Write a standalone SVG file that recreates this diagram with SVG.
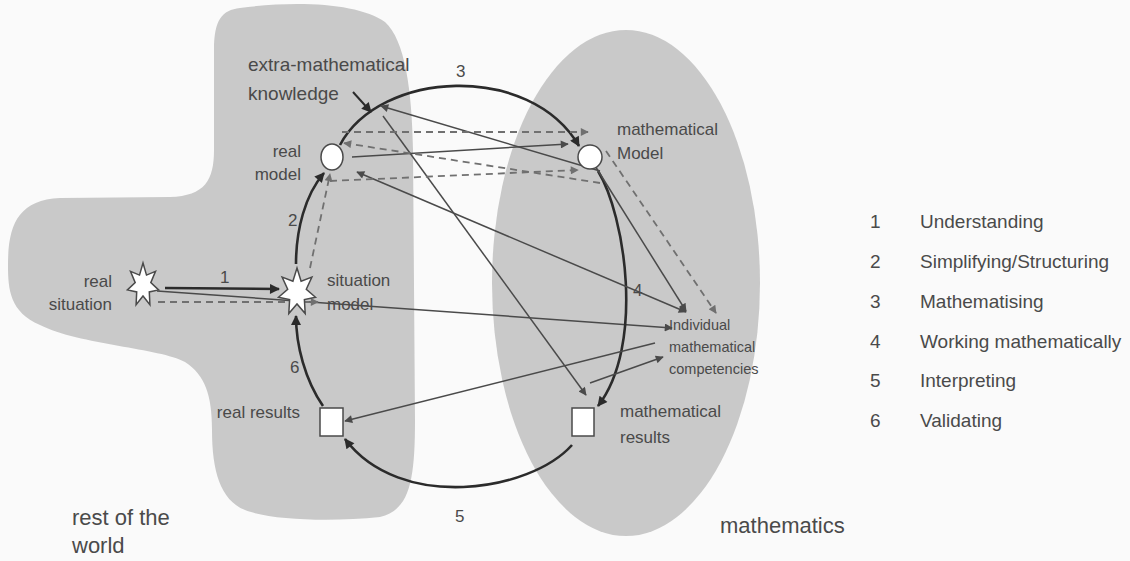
<svg xmlns="http://www.w3.org/2000/svg" width="1130" height="561" viewBox="0 0 1130 561">
<style>
.lbl{font-family:"Liberation Sans",Arial,sans-serif;font-size:17px;fill:#4a4a4a}
.big{font-size:22px}
.sm{font-size:14.5px}
.leg{font-size:19px}
.thick{fill:none;stroke:#2b2b2b;stroke-width:2.6}
.thin{fill:none;stroke:#4a4a4a;stroke-width:1.5}
.dash{fill:none;stroke:#707070;stroke-width:1.8;stroke-dasharray:7 5}
.node{fill:#ffffff;stroke:#4a4a4a;stroke-width:1.5}
</style>
<defs>
<marker id="ah" viewBox="0 0 10 10" refX="9" refY="5" markerWidth="12" markerHeight="10" orient="auto-start-reverse" markerUnits="userSpaceOnUse"><path d="M0,0 L10,5 L0,10 z" fill="#2b2b2b"/></marker>
<marker id="at" viewBox="0 0 10 10" refX="9" refY="5" markerWidth="10" markerHeight="8" orient="auto-start-reverse" markerUnits="userSpaceOnUse"><path d="M0,0 L10,5 L0,10 z" fill="#4a4a4a"/></marker>
<marker id="ad" viewBox="0 0 10 10" refX="9" refY="5" markerWidth="9" markerHeight="8" orient="auto-start-reverse" markerUnits="userSpaceOnUse"><path d="M0,0 L10,5 L0,10 z" fill="#707070"/></marker>
</defs>
<rect width="1130" height="561" fill="#fafafa"/>
<g id="regions">
<path id="rest-of-world" d="M240,8 C300,0 360,4 385,22 C405,40 412,90 413,150 L415,420 C415,480 410,510 380,517 C330,522 270,520 245,510 C220,500 212,470 212,430 C212,395 205,375 185,362 C160,348 80,345 40,325 C10,312 8,290 8,265 C8,225 18,200 60,198 L170,197 C205,196 214,180 214,150 L214,50 C214,20 222,10 240,8 Z" fill="#c9c9c9"/>
<ellipse id="mathematics-region" cx="626" cy="283" rx="134" ry="253" fill="#c9c9c9"/>
</g>
<g id="connectors">
<path class="thick" d="M165,288 L279,289" marker-end="url(#ah)"/>
<path class="thin" d="M157,291 L672,328" marker-end="url(#at)"/>
<path class="dash" d="M158,302 L318,302" marker-end="url(#ad)"/>
<path class="thick" d="M296,264 C296,230 305,195 324,173" marker-end="url(#ah)"/>
<path class="dash" d="M310,268 L330,174" marker-end="url(#ad)"/>
<path class="thick" d="M340,145 C380,70 530,62 579,146" marker-end="url(#ah)"/>
<path class="thick" d="M598,171 C625,215 645,345 598,406" marker-end="url(#ah)"/>
<path class="thick" d="M572,445 C530,492 400,512 345,439" marker-end="url(#ah)"/>
<path class="thick" d="M323,406 C305,380 296,345 296,316" marker-end="url(#ah)"/>
<path class="thick" d="M353,92 L371,112" marker-end="url(#ah)" style="stroke-width:2"/>
<path class="thin" d="M383,116 L586,395" marker-end="url(#at)"/>
<path class="thin" d="M381,106 L600,171" marker-start="url(#at)"/>
<path class="thin" d="M357,172 L686,312" marker-start="url(#at)" marker-end="url(#at)"/>
<path class="thin" d="M352,157 L568,144" marker-end="url(#at)"/>
<path class="dash" d="M342,132 L588,132" marker-end="url(#ad)"/>
<path class="dash" d="M600,183 L344,143" marker-end="url(#ad)"/>
<path class="dash" d="M330,181 L578,170" marker-end="url(#ad)"/>
<path class="thin" d="M592,161 L686,311" marker-start="url(#at)" marker-end="url(#at)"/>
<path class="dash" d="M606,151 L716,313" marker-end="url(#ad)"/>
<path class="thin" d="M655,343 L345,421" marker-end="url(#at)"/>
<path class="thin" d="M590,383 L663,357" marker-end="url(#at)"/>
</g>
<g id="real-situation">
<polygon class="node" points="143,263 146.5,275.1 155.5,271.3 150.8,282.6 158.6,289.9 149.3,291.9 149.9,304.8 143,296 136.1,304.8 136.7,291.9 127.4,289.9 135.2,282.6 130.5,271.3 139.5,275.1"/>
<text class="lbl" x="112" y="287" text-anchor="end">real</text>
<text class="lbl" x="112" y="310" text-anchor="end">situation</text>
</g>
<g id="situation-model">
<polygon class="node" points="297,268 301.1,281.2 311.9,277 306.3,289.3 315.5,297.3 304.4,299.5 305.2,313.6 297,304 288.8,313.6 289.6,299.5 278.5,297.3 287.7,289.3 282.1,277 292.9,281.2"/>
<text class="lbl" x="327" y="286">situation</text>
<text class="lbl" x="327" y="310">model</text>
</g>
<g id="real-model">
<ellipse class="node" cx="332" cy="157" rx="11" ry="13"/>
<text class="lbl" x="301" y="157" text-anchor="end">real</text>
<text class="lbl" x="301" y="180" text-anchor="end">model</text>
</g>
<g id="mathematical-model">
<circle class="node" cx="590" cy="157" r="12"/>
<text class="lbl" x="617" y="135">mathematical</text>
<text class="lbl" x="617" y="159">Model</text>
</g>
<g id="real-results">
<rect class="node" x="320" y="408" width="23" height="28"/>
<text class="lbl" x="300" y="418" text-anchor="end">real results</text>
</g>
<g id="mathematical-results">
<rect class="node" x="572" y="408" width="22" height="28"/>
<text class="lbl" x="620" y="417">mathematical</text>
<text class="lbl" x="620" y="443">results</text>
</g>
<g id="extra-mathematical-knowledge">
<text class="lbl" x="248" y="71" style="font-size:19px">extra-mathematical</text>
<text class="lbl" x="248" y="100" style="font-size:19px">knowledge</text>
</g>
<g id="individual-competencies">
<text class="lbl sm" x="669" y="330">Individual</text>
<text class="lbl sm" x="669" y="352">mathematical</text>
<text class="lbl sm" x="669" y="374">competencies</text>
</g>
<g id="step-numbers">
<text class="lbl" x="220" y="283">1</text>
<text class="lbl" x="288" y="226">2</text>
<text class="lbl" x="456" y="77">3</text>
<text class="lbl" x="633" y="296">4</text>
<text class="lbl" x="455" y="522">5</text>
<text class="lbl" x="290" y="373">6</text>
</g>
<g id="region-labels">
<text class="lbl big" x="72" y="525">rest of the</text>
<text class="lbl big" x="72" y="553">world</text>
<text class="lbl big" x="720" y="533">mathematics</text>
</g>
<g id="legend">
<text class="lbl leg" x="870" y="228">1</text><text class="lbl leg" x="920" y="228">Understanding</text>
<text class="lbl leg" x="870" y="268">2</text><text class="lbl leg" x="920" y="268">Simplifying/Structuring</text>
<text class="lbl leg" x="870" y="308">3</text><text class="lbl leg" x="920" y="308">Mathematising</text>
<text class="lbl leg" x="870" y="348">4</text><text class="lbl leg" x="920" y="348">Working mathematically</text>
<text class="lbl leg" x="870" y="387">5</text><text class="lbl leg" x="920" y="387">Interpreting</text>
<text class="lbl leg" x="870" y="427">6</text><text class="lbl leg" x="920" y="427">Validating</text>
</g>
</svg>
